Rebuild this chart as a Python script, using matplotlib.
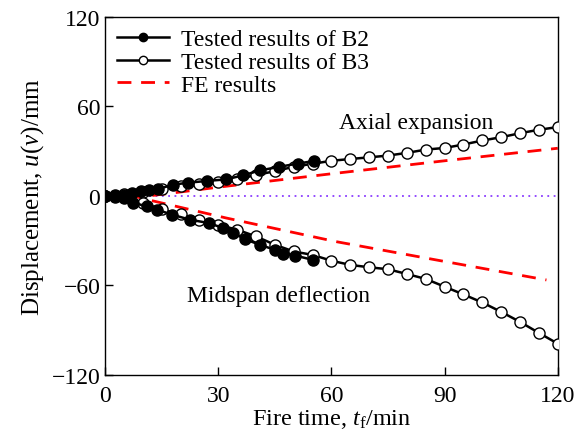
import matplotlib
matplotlib.use("Agg")
import matplotlib.pyplot as plt

plt.rcParams['font.family'] = ['Liberation Serif', 'DejaVu Serif']
plt.rcParams['mathtext.fontset'] = 'custom'
plt.rcParams['mathtext.rm'] = 'Liberation Serif'
plt.rcParams['mathtext.it'] = 'Liberation Serif:italic'

# B2 (filled) - tested up to ~56 min
b2_t_up = [0, 2.5, 5, 7, 9.5, 11.5, 14, 18, 22, 27, 32, 36.5, 41, 46, 51, 55.5]
b2_up = [0, 0.3, 0.8, 2, 3, 4, 4.5, 7.5, 8.8, 10, 11, 13.7, 17, 19.4, 21.6, 23.4]
b2_t_dn = [0, 2.5, 5, 7.5, 11, 13.7, 17.7, 22.5, 27.4, 31.3, 34, 37, 41, 45, 47.2, 50.3, 55.2]
b2_dn = [0, -0.5, -1.5, -4.7, -7, -9.2, -12.6, -16, -18.2, -21.6, -25, -29, -32.8, -36.2, -39, -40, -43]

# B3 (open) - every 5 min
b3_t = [0, 5, 10, 15, 20, 25, 30, 35, 40, 45, 50, 55, 60, 65, 70, 75, 80, 85, 90, 95, 100, 105, 110, 115, 120]
b3_up = [0, 1, 2.5, 4.5, 6.5, 8, 9.5, 11, 14, 16.5, 19.5, 21.5, 23.5, 24.7, 25.8, 27.0, 28.8, 31.0,
         32.1, 34.4, 37.1, 39.3, 42.0, 44.3, 46.1]
b3_dn = [0, -1, -5, -9, -12.5, -16, -19.5, -22.7, -27.2, -32.8, -37.3, -39.6, -43.5, -46.3, -47.9,
         -49.2, -52.4, -55.7, -60.9, -66.1, -71.5, -77.8, -84.5, -91.9, -99.1]

# FE results
fe_t_up = [0, 10, 15, 30, 60, 90, 120]
fe_up = [0, -0.5, 1, 5.8, 14.8, 23.5, 31.9]
fe_t_dn = [0, 8, 13, 22.5, 32, 61, 90, 117]
fe_dn = [0, -0.5, -3.6, -9.2, -14.8, -30.6, -44, -56.4]

fig = plt.figure(figsize=(5.81, 4.35), dpi=100)
ax = fig.add_axes([0.181, 0.136, 0.779, 0.823])

ax.axhline(0, color='#8a3cff', ls=(0, (1, 2.5)), lw=1.3, zorder=1)

ax.plot(fe_t_up, fe_up, color='#ff0000', ls=(0, (5, 3.5)), lw=2, zorder=2, label='FE results')
ax.plot(fe_t_dn, fe_dn, color='#ff0000', ls=(0, (5, 3.5)), lw=2, zorder=2)

mk = dict(marker='o', ms=8, mew=1, lw=1.8, color='black', mec='black')
ax.plot(b3_t, b3_up, mfc='white', zorder=3, label='Tested results of B3', **mk)
ax.plot(b3_t, b3_dn, mfc='white', zorder=3, **mk)
ax.plot(b2_t_up, b2_up, mfc='black', zorder=4, label='Tested results of B2', **mk)
ax.plot(b2_t_dn, b2_dn, mfc='black', zorder=4, **mk)

ax.set_xlim(0, 120)
ax.set_ylim(-120, 120)
ax.set_xticks([0, 30, 60, 90, 120])
ax.set_yticks([-120, -60, 0, 60, 120])
ax.tick_params(direction='in', length=6, width=1, labelsize=17, top=False, right=False)
ax.tick_params(axis='x', pad=7)
for s in ax.spines.values():
    s.set_linewidth(1)

ax.set_xlabel('Fire time, $t_\\mathrm{f}$/min', fontsize=17.5, labelpad=1)
ax.set_ylabel('Displacement, $u$($v$)/mm', fontsize=18, labelpad=4)

ax.text(82.5, 49, 'Axial expansion', fontsize=17, ha='center', va='center')
ax.text(46, -67, 'Midspan deflection', fontsize=17, ha='center', va='center')

h, l = ax.get_legend_handles_labels()
order = [2, 1, 0]
leg = ax.legend([h[i] for i in order], [l[i] for i in order], loc='upper left', frameon=False,
                fontsize=17, handlelength=2.2, handletextpad=0.5, labelspacing=0.05,
                borderaxespad=0.2, borderpad=0.3, numpoints=1, markerscale=0.75)

fig.savefig('out.png', dpi=100)
